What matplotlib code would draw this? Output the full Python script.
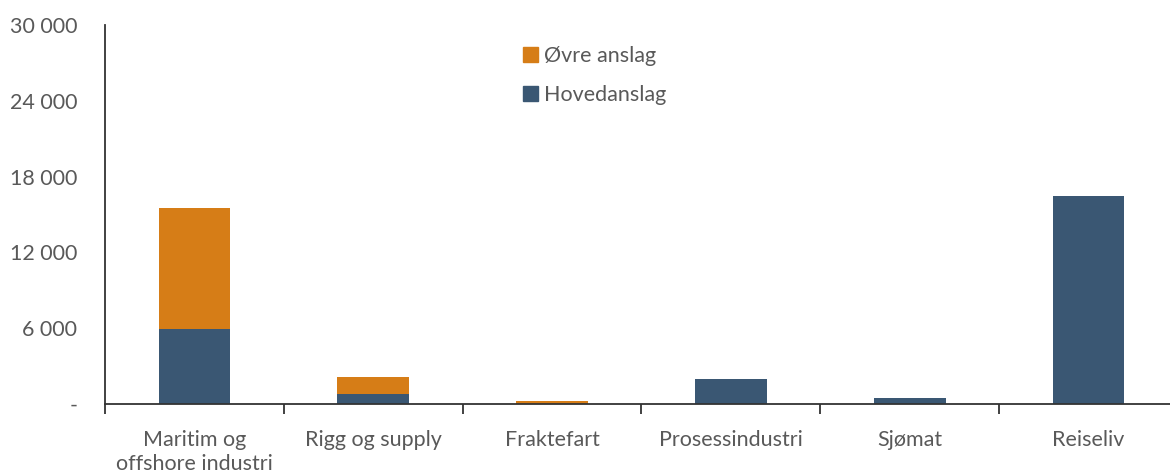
import matplotlib
matplotlib.use("Agg")
import matplotlib.pyplot as plt
from matplotlib.patches import Patch
from matplotlib.ticker import FixedLocator, FuncFormatter

categories = ["Maritim og\noffshore industri", "Rigg og supply", "Fraktefart",
              "Prosessindustri", "Sjømat", "Reiseliv"]
hovedanslag = [5950, 800, 0, 1950, 450, 16500]
ovre_tillegg = [9600, 1330, 200, 0, 0, 0]
series_names = ["Øvre anslag", "Hovedanslag"]
y_ticks = [0, 6000, 12000, 18000, 24000, 30000]

BLUE = "#3A5773"
ORANGE = "#D67D17"
TEXT = "#595959"

plt.rcParams['font.family'] = ['Lato', 'DejaVu Sans']

fig = plt.figure(figsize=(11.7, 4.73), dpi=100)
ax = fig.add_axes([105/1170, 1-404/473, 1073/1170, (404-25)/473])

x = list(range(len(categories)))
ax.bar(x, hovedanslag, width=0.4, color=BLUE, linewidth=0)
ax.bar(x, ovre_tillegg, width=0.4, bottom=hovedanslag, color=ORANGE, linewidth=0)

ax.set_xlim(-0.5, len(categories) - 0.5)
ax.set_ylim(0, 30000)

ax.yaxis.set_major_locator(FixedLocator(y_ticks))
ax.yaxis.set_major_formatter(FuncFormatter(
    lambda v, p: "-" if v == 0 else f"{int(v):,}".replace(",", " ")))
ax.tick_params(axis="y", length=0, pad=20, labelsize=15.5, labelcolor=TEXT)

ax.set_xticks([i - 0.5 for i in range(len(categories) + 1)])
ax.set_xticklabels([])
ax.set_xticks(x, minor=True)
ax.set_xticklabels(categories, minor=True, linespacing=1.25)
ax.tick_params(axis="x", which="major", length=7, width=1.3, color="#333333", direction="out")
ax.tick_params(axis="x", which="minor", length=0, pad=19, labelsize=15.5, labelcolor=TEXT)

for s in ["top", "right"]:
    ax.spines[s].set_visible(False)
ax.spines["left"].set_color("#333333")
ax.spines["left"].set_linewidth(1.3)
ax.spines["bottom"].set_color("#333333")
ax.spines["bottom"].set_linewidth(1.3)

handles = [Patch(color=ORANGE), Patch(color=BLUE)]
leg = ax.legend(handles, series_names, loc="upper left",
                bbox_to_anchor=(512/1170, 1-35/473), bbox_transform=fig.transFigure,
                frameon=False, fontsize=15.5, handlelength=0.7, handleheight=0.7,
                handletextpad=0.3, labelspacing=0.88, borderpad=0)
for t in leg.get_texts():
    t.set_color(TEXT)

fig.savefig("out.png", dpi=100)
